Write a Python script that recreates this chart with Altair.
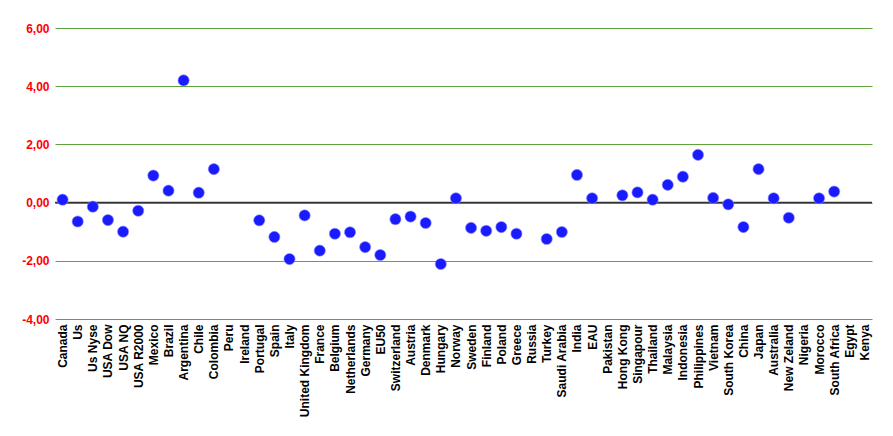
import altair as alt
import pandas as pd

countries = ["Canada", "Us", "Us Nyse", "USA Dow", "USA NQ", "USA R2000", "Mexico", "Brazil",
             "Argentina", "Chile", "Colombia", "Peru", "Ireland", "Portugal", "Spain", "Italy",
             "United Kingdom", "France", "Belgium", "Netherlands", "Germany", "EU50", "Switzerland",
             "Austria", "Denmark", "Hungary", "Norway", "Sweden", "Finland", "Poland", "Greece",
             "Russia", "Turkey", "Saudi Arabia", "India", "EAU", "Pakistan", "Hong Kong",
             "Singapour", "Thailand", "Malaysia", "Indonesia", "Philippines", "Vietnam",
             "South Korea", "China", "Japan", "Australia", "New Zeland", "Nigeria", "Morocco",
             "South Africa", "Egypt", "Kenya"]

values = [0.10, -0.65, -0.14, -0.60, -1.00, -0.28, 0.93, 0.41,
          4.20, 0.34, 1.15, None, None, -0.61, -1.18, -1.94,
          -0.44, -1.65, -1.07, -1.02, -1.53, -1.80, -0.57,
          -0.48, -0.70, -2.11, 0.15, -0.87, -0.97, -0.84, -1.07,
          None, -1.25, -1.01, 0.95, 0.15, None, 0.25,
          0.35, 0.10, 0.61, 0.89, 1.64, 0.16,
          -0.06, -0.84, 1.15, 0.15, -0.52, None, 0.15,
          0.38, None, None]

y_ticks = [-4, -2, 0, 2, 4, 6]

df = pd.DataFrame({"country": countries, "value": values})

W, H = 817, 291

x = alt.X("country:N", sort=countries,
          scale=alt.Scale(domain=countries, type="point", padding=0.5),
          axis=alt.Axis(title=None, labelAngle=-90, labelFont="Liberation Sans",
                        labelFontSize=12, labelFontWeight="bold", labelColor="#000000",
                        labelPadding=5, ticks=False, domain=False, grid=False,
                        labelAlign="right", labelBaseline="middle", labelOverlap=False))
y = alt.Y("value:Q", scale=alt.Scale(domain=[-4, 6], nice=False, zero=False),
          axis=alt.Axis(title=None, values=y_ticks, labelFont="Liberation Sans",
                        labelFontSize=12, labelFontWeight="bold", labelColor="#ff0000",
                        labelPadding=6, ticks=False, domain=False, grid=True,
                        gridColor="#5fa33a", gridWidth=1, gridOpacity=1,
                        labelExpr="replace(replace(format(datum.value, '.2f'), '.', ','), '\u2212', '-')"))

points = alt.Chart(df).mark_circle(size=125, color="#1a1aff", opacity=1,
                                   stroke="#8c8cff", strokeWidth=0.6).encode(x=x, y=y)

zero = alt.Chart(pd.DataFrame({"z": [0]})).mark_rule(color="#333333", strokeWidth=1.5).encode(
    y=alt.Y("z:Q", scale=alt.Scale(domain=[-4, 6], nice=False, zero=False)))

chart = alt.layer(zero, points).properties(
    width=W, height=H,
    autosize=alt.AutoSizeParams(type="none"),
    padding={"left": 47, "top": 20, "right": 10, "bottom": 100},
).configure(background="white", view=alt.ViewConfig(stroke=None))

chart.save("out.html", embed_options={"renderer": "svg", "actions": False})
